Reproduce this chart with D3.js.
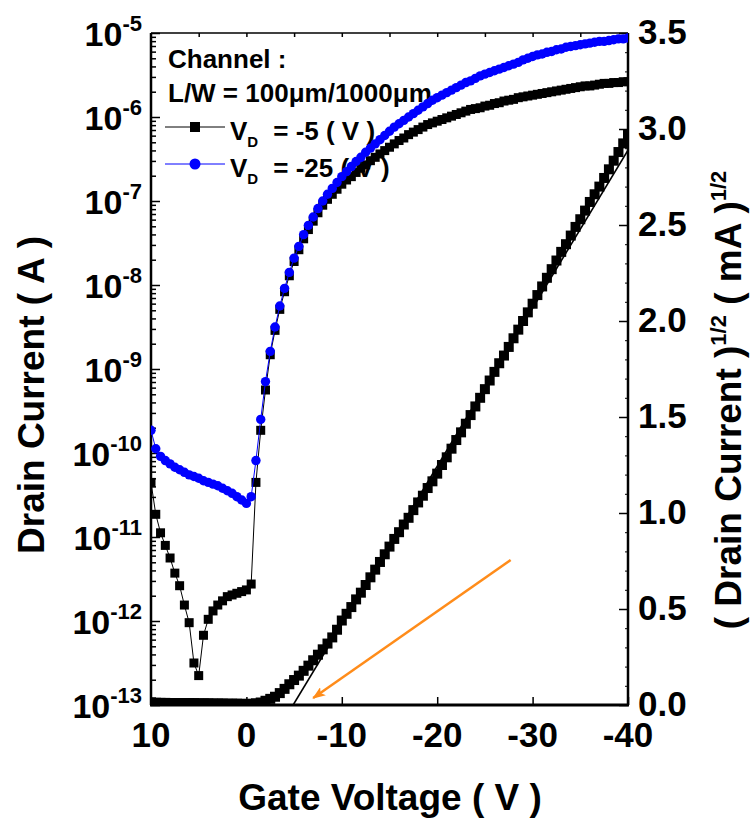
<!DOCTYPE html>
<html>
<head>
<meta charset="utf-8">
<script src="https://cdn.jsdelivr.net/npm/d3@7"></script>
<style>
  body { margin: 0; background: #fff; }
  text { font-family: "Liberation Sans", Arial, sans-serif; font-weight: bold; fill: #000; white-space: pre; }
</style>
</head>
<body>
<div id="chart"></div>
<script>
// gate sweep, V
var gateVoltage = [
  10, 9.5, 9, 8.5, 8, 7.5, 7, 6.5, 6, 5.5,
  5, 4.5, 4, 3.5, 3, 2.5, 2, 1.5, 1, 0.5,
  0, -0.5, -1, -1.5, -2, -2.5, -3, -3.5, -4, -4.5,
  -5, -5.5, -6, -6.5, -7, -7.5, -8, -8.5, -9, -9.5,
  -10, -10.5, -11, -11.5, -12, -12.5, -13, -13.5, -14, -14.5,
  -15, -15.5, -16, -16.5, -17, -17.5, -18, -18.5, -19, -19.5,
  -20, -20.5, -21, -21.5, -22, -22.5, -23, -23.5, -24, -24.5,
  -25, -25.5, -26, -26.5, -27, -27.5, -28, -28.5, -29, -29.5,
  -30, -30.5, -31, -31.5, -32, -32.5, -33, -33.5, -34, -34.5,
  -35, -35.5, -36, -36.5, -37, -37.5, -38, -38.5, -39, -39.5,
  -40
];

// log10 of drain current (A), VD = -5 V
var logIdVd5 = [
  -10.35, -10.73, -10.95, -11.10, -11.25, -11.43, -11.58, -11.81, -12.02, -12.50,
  -12.65, -12.17, -11.98, -11.88, -11.81, -11.76, -11.71, -11.69, -11.67, -11.65,
  -11.63, -11.56, -10.35, -9.73, -9.25, -8.83, -8.54, -8.29, -8.08, -7.89,
  -7.72, -7.58, -7.45, -7.34, -7.24, -7.14, -7.05, -6.98, -6.92, -6.86,
  -6.80, -6.75, -6.71, -6.66, -6.61, -6.57, -6.52, -6.48, -6.44, -6.40,
  -6.36, -6.32, -6.28, -6.25, -6.21, -6.18, -6.15, -6.12, -6.09, -6.07,
  -6.05, -6.03, -6.01, -5.99, -5.97, -5.95, -5.93, -5.91, -5.90, -5.89,
  -5.87, -5.86, -5.84, -5.83, -5.81, -5.80, -5.79, -5.77, -5.76, -5.75,
  -5.74, -5.73, -5.72, -5.71, -5.70, -5.69, -5.68, -5.67, -5.66, -5.65,
  -5.64, -5.63, -5.63, -5.62, -5.61, -5.60, -5.60, -5.59, -5.59, -5.58,
  -5.58
];

// log10 of drain current (A), VD = -25 V
var logIdVd25 = [
  -9.73, -9.95, -10.04, -10.09, -10.13, -10.17, -10.20, -10.23, -10.26, -10.28,
  -10.30, -10.33, -10.35, -10.37, -10.39, -10.42, -10.45, -10.48, -10.52, -10.56,
  -10.60, -10.52, -10.09, -9.60, -9.15, -8.79, -8.50, -8.25, -8.04, -7.85,
  -7.68, -7.54, -7.40, -7.29, -7.19, -7.09, -7.00, -6.92, -6.85, -6.78,
  -6.71, -6.65, -6.59, -6.53, -6.48, -6.42, -6.37, -6.32, -6.27, -6.22,
  -6.17, -6.12, -6.08, -6.04, -6.00, -5.96, -5.92, -5.88, -5.84, -5.80,
  -5.77, -5.74, -5.71, -5.68, -5.65, -5.62, -5.59, -5.57, -5.54, -5.51,
  -5.49, -5.47, -5.45, -5.43, -5.41, -5.39, -5.37, -5.35, -5.32, -5.30,
  -5.28, -5.26, -5.25, -5.23, -5.22, -5.20, -5.19, -5.17, -5.16, -5.15,
  -5.14, -5.13, -5.12, -5.11, -5.10, -5.10, -5.09, -5.08, -5.07, -5.07,
  -5.06
];

// (drain current)^1/2, right axis
var sqrtId = [
  0.014, 0.012, 0.011, 0.011, 0.010, 0.010, 0.010, 0.010, 0.010, 0.010,
  0.009, 0.009, 0.009, 0.008, 0.008, 0.008, 0.007, 0.007, 0.007, 0.006,
  0.006, 0.006, 0.009, 0.013, 0.022, 0.032, 0.043, 0.062, 0.084, 0.108,
  0.130, 0.153, 0.178, 0.205, 0.233, 0.262, 0.290, 0.320, 0.352, 0.392,
  0.440, 0.475, 0.510, 0.550, 0.585, 0.625, 0.665, 0.705, 0.745, 0.785,
  0.825, 0.865, 0.900, 0.940, 0.975, 1.015, 1.055, 1.090, 1.130, 1.165,
  1.205, 1.250, 1.290, 1.335, 1.380, 1.420, 1.465, 1.510, 1.555, 1.600,
  1.645, 1.690, 1.735, 1.780, 1.820, 1.865, 1.910, 1.955, 2.000, 2.045,
  2.090, 2.135, 2.180, 2.225, 2.270, 2.315, 2.360, 2.400, 2.445, 2.490,
  2.530, 2.575, 2.620, 2.660, 2.700, 2.745, 2.790, 2.835, 2.880, 2.925,
  2.970
];

// linear fit of the sqrt curve, and the orange pointer (right axis units)
var fitVg = [-4.9, -40];
var fitSqrt = [0, 2.89];
var arrowVg = [-27.7, -7.0];
var arrowSqrt = [0.755, 0.036];

var xTicks = [10, 0, -10, -20, -30, -40];
var xTopTicks = [5, 0, -5, -10, -15, -20, -25, -30, -35];
var yExponents = [-5, -6, -7, -8, -9, -10, -11, -12, -13];
var rightTicks = [0, 0.5, 1.0, 1.5, 2.0, 2.5, 3.0, 3.5];

var W = 753, H = 822;
var box = {left: 151, top: 33, right: 628, bottom: 705};

var x = d3.scaleLinear().domain([10, -40]).range([box.left, box.right]);
var y = d3.scaleLog().domain([1e-13, 1e-5]).range([box.bottom, box.top]);
var y2 = d3.scaleLinear().domain([0, 3.5]).range([box.bottom, box.top]);

var svg = d3.select("#chart").append("svg")
  .attr("width", W)
  .attr("height", H);

svg.append("defs").append("clipPath").attr("id", "plotClip")
  .append("rect")
  .attr("x", box.left).attr("y", box.top)
  .attr("width", box.right - box.left).attr("height", box.bottom - box.top);

svg.select("defs").append("marker")
  .attr("id", "arrowHead")
  .attr("markerUnits", "userSpaceOnUse")
  .attr("markerWidth", 14).attr("markerHeight", 10)
  .attr("refX", 12).attr("refY", 5)
  .attr("orient", "auto")
  .append("path")
  .attr("d", "M0,0 L13,5 L0,10 L3,5 Z")
  .attr("fill", "#ff8c1a");

// ticks
var majors = yExponents.map(function(e) { return Math.pow(10, e); });
var minors = [];
yExponents.slice(1).forEach(function(e) {
  for (var m = 2; m <= 9; m++) minors.push(m * Math.pow(10, e));
});
var rightMinors = d3.range(0, 35).map(function(i) { return i / 10; });

function tickGroup(axis, tx, ty) {
  var g = svg.append("g").attr("transform", "translate(" + [tx, ty] + ")").call(axis);
  g.select(".domain").remove();
  g.selectAll("line").attr("stroke", "#000").attr("stroke-width", 1.5);
  return g;
}

tickGroup(d3.axisLeft(y).tickValues(minors).tickSize(-5).tickFormat(""), box.left, 0);
tickGroup(d3.axisLeft(y).tickValues(majors).tickSize(-9).tickFormat(""), box.left, 0);
tickGroup(d3.axisBottom(x).tickValues(xTicks).tickSize(-8).tickFormat(""), 0, box.bottom);
tickGroup(d3.axisTop(x).tickValues(xTopTicks).tickSize(-4).tickFormat(""), 0, box.top);
tickGroup(d3.axisRight(y2).tickValues(rightMinors).tickSize(-3).tickFormat(""), box.right, 0)
  .selectAll("line").attr("stroke-width", 1);
tickGroup(d3.axisRight(y2).tickValues(rightTicks).tickSize(-9).tickFormat(""), box.right, 0);

// frame
svg.append("line").attr("x1", box.left).attr("x2", box.right).attr("y1", box.top).attr("y2", box.top)
  .attr("stroke", "#000").attr("stroke-width", 1.5);
svg.append("line").attr("x1", box.left).attr("x2", box.left).attr("y1", box.top).attr("y2", box.bottom)
  .attr("stroke", "#000").attr("stroke-width", 2.5);
svg.append("line").attr("x1", box.right).attr("x2", box.right).attr("y1", box.top).attr("y2", box.bottom)
  .attr("stroke", "#000").attr("stroke-width", 2.5);
svg.append("line").attr("x1", box.left - 1).attr("x2", box.right + 1).attr("y1", box.bottom).attr("y2", box.bottom)
  .attr("stroke", "#000").attr("stroke-width", 3);

// tick labels
svg.append("g").selectAll("text").data(xTicks).enter()
  .append("text")
  .attr("x", function(d) { return x(d); })
  .attr("y", 747)
  .attr("text-anchor", "middle")
  .style("font-size", "35px")
  .text(function(d) { return d; });

var yLab = svg.append("g").selectAll("text").data(yExponents).enter()
  .append("text")
  .attr("x", 142)
  .attr("y", function(d) { return y(Math.pow(10, d)) + 13; })
  .attr("text-anchor", "end")
  .style("font-size", "34px");
yLab.append("tspan").text("10");
yLab.append("tspan").attr("dy", -15).style("font-size", "22px").text(function(d) { return d; });

svg.append("g").selectAll("text").data(rightTicks).enter()
  .append("text")
  .attr("x", 638)
  .attr("y", function(d) { return y2(d) + 11; })
  .style("font-size", "35px")
  .text(function(d) { return d.toFixed(1); });

// axis titles
svg.append("text")
  .attr("transform", "translate(44,395) rotate(-90)")
  .attr("text-anchor", "middle")
  .style("font-size", "37px")
  .text("Drain Current ( A )");

svg.append("text")
  .attr("x", 390).attr("y", 810)
  .attr("text-anchor", "middle")
  .style("font-size", "37px")
  .text("Gate Voltage ( V )");

var rt = svg.append("text")
  .attr("transform", "translate(741,400) rotate(-90)")
  .attr("text-anchor", "middle")
  .style("font-size", "37px");
rt.append("tspan").text("( Drain Current )");
rt.append("tspan").attr("dy", -15).style("font-size", "22px").text("1/2");
rt.append("tspan").attr("dy", 15).text(" ( mA )");
rt.append("tspan").attr("dy", -15).style("font-size", "22px").text("1/2");

// legend
svg.append("text").attr("x", 168).attr("y", 68).style("font-size", "26px").text("Channel :");
svg.append("text").attr("x", 168).attr("y", 102).style("font-size", "26px").text("L/W = 100\u03bcm/1000\u03bcm");

var legendRows = [
  {label: " = -5 ( V )", color: "#000", shape: "square", y: 127},
  {label: " = -25 ( V )", color: "#0000ff", shape: "circle", y: 164}
];
legendRows.forEach(function(r) {
  svg.append("line").attr("x1", 165).attr("x2", 225).attr("y1", r.y).attr("y2", r.y)
    .attr("stroke", r.color).attr("stroke-width", 1);
  if (r.shape === "square") {
    svg.append("rect").attr("x", 190).attr("y", r.y - 5).attr("width", 10).attr("height", 10).attr("fill", r.color);
  } else {
    svg.append("circle").attr("cx", 195).attr("cy", r.y).attr("r", 5.5).attr("fill", r.color);
  }
  var t = svg.append("text").attr("x", 230).attr("y", r.y + 13).style("font-size", "26px");
  t.append("tspan").text("V");
  t.append("tspan").attr("dy", 7).style("font-size", "15px").text("D");
  t.append("tspan").attr("x", 266).attr("dy", -7).text(r.label);
});

// data
var vd5 = gateVoltage.map(function(v, i) { return {vg: v, id: Math.pow(10, logIdVd5[i])}; });
var vd25 = gateVoltage.map(function(v, i) { return {vg: v, id: Math.pow(10, logIdVd25[i])}; });
var sq = gateVoltage.map(function(v, i) { return {vg: v, s: sqrtId[i]}; });

var plot = svg.append("g").attr("clip-path", "url(#plotClip)");

var lineLog = d3.line().x(function(d) { return x(d.vg); }).y(function(d) { return y(d.id); });
var lineSq = d3.line().x(function(d) { return x(d.vg); }).y(function(d) { return y2(d.s); });

// sqrt curve
plot.append("path").datum(sq).attr("d", lineSq).attr("fill", "none").attr("stroke", "#000").attr("stroke-width", 1);
plot.append("g").selectAll("rect").data(sq).enter()
  .append("rect")
  .attr("x", function(d) { return x(d.vg) - 5; })
  .attr("y", function(d) { return y2(d.s) - 5; })
  .attr("width", 10).attr("height", 10)
  .attr("fill", "#000");

// fit line
var fit = fitVg.map(function(v, i) { return {vg: v, s: fitSqrt[i]}; });
plot.append("path").datum(fit).attr("d", lineSq).attr("fill", "none").attr("stroke", "#000").attr("stroke-width", 1.6);

// VD = -5
plot.append("path").datum(vd5).attr("d", lineLog).attr("fill", "none").attr("stroke", "#000").attr("stroke-width", 1);
plot.append("g").selectAll("rect").data(vd5).enter()
  .append("rect")
  .attr("x", function(d) { return x(d.vg) - 4.5; })
  .attr("y", function(d) { return y(d.id) - 4.5; })
  .attr("width", 9).attr("height", 9)
  .attr("fill", "#000");

// VD = -25
plot.append("path").datum(vd25).attr("d", lineLog).attr("fill", "none").attr("stroke", "#0000ff").attr("stroke-width", 1);
plot.append("g").selectAll("circle").data(vd25).enter()
  .append("circle")
  .attr("cx", function(d) { return x(d.vg); })
  .attr("cy", function(d) { return y(d.id); })
  .attr("r", 4.7)
  .attr("fill", "#0000ff");

// orange arrow
svg.append("line")
  .attr("x1", x(arrowVg[0])).attr("y1", y2(arrowSqrt[0]))
  .attr("x2", x(arrowVg[1])).attr("y2", y2(arrowSqrt[1]))
  .attr("stroke", "#ff8c1a").attr("stroke-width", 2.5)
  .attr("marker-end", "url(#arrowHead)");
</script>
</body>
</html>
